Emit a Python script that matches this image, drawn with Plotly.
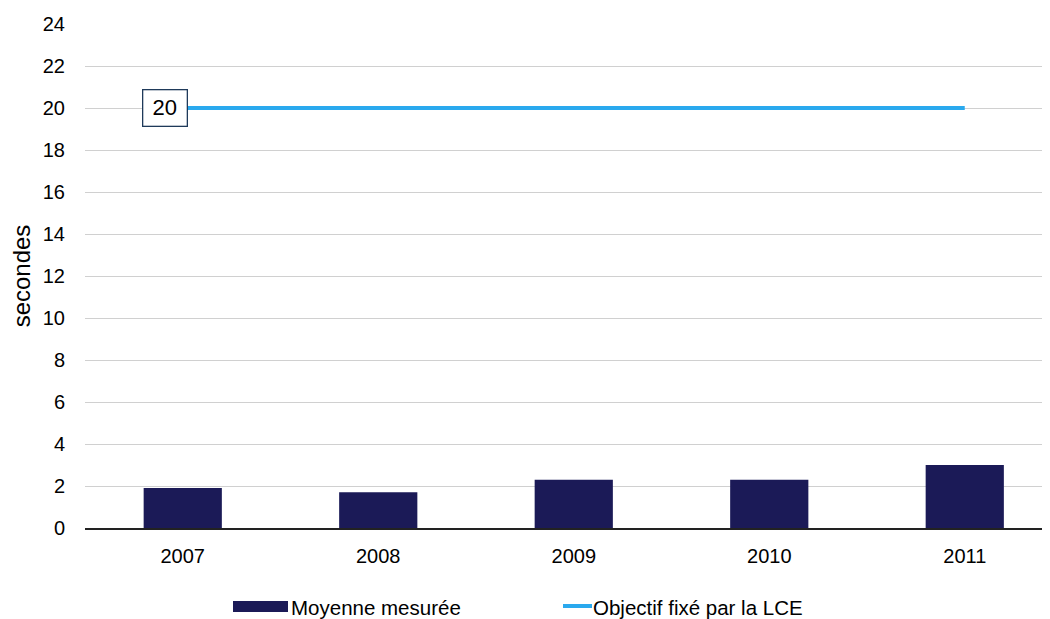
import plotly.graph_objects as go

years = ["2007", "2008", "2009", "2010", "2011"]
moyenne = [1.9, 1.7, 2.3, 2.3, 3.0]
objectif = [20, 20, 20, 20, 20]
y_ticks = list(range(0, 25, 2))

NAVY = "#1b1a57"
BLUE = "#2aa9ee"
FONT = "Liberation Sans, Arial, sans-serif"

fig = go.Figure()
fig.add_trace(go.Bar(x=years, y=moyenne, name="Moyenne mesurée",
                     marker=dict(color=NAVY, line=dict(width=0)), width=0.4,
                     showlegend=False))
fig.add_trace(go.Scatter(x=years, y=objectif, name="Objectif fixé par la LCE",
                         mode="lines", line=dict(color=BLUE, width=4),
                         showlegend=False))

fig.add_annotation(x=0, y=objectif[0], text=str(objectif[0]), showarrow=False,
                   xanchor="right", xshift=5, width=35, height=27,
                   font=dict(size=22, color="#000", family=FONT),
                   bgcolor="white", bordercolor="#1f3a5a", borderwidth=1.3, borderpad=4)

# custom legend (paper coordinates)
fig.add_shape(type="rect", xref="paper", yref="paper", x0=(233-85)/965, x1=(288-85)/965,
              y0=-(601-528)/504, y1=-(612-528)/504, fillcolor=NAVY, line=dict(width=0))
fig.add_annotation(xref="paper", yref="paper", x=(289-85)/965, y=-(607-528)/504,
                   text="Moyenne mesurée", showarrow=False, xanchor="left", yanchor="middle",
                   font=dict(size=20.5, color="#000", family=FONT))
fig.add_shape(type="line", xref="paper", yref="paper", x0=(563-85)/965, x1=(592-85)/965,
              y0=-(606-528)/504, y1=-(606-528)/504, line=dict(color=BLUE, width=4))
fig.add_annotation(xref="paper", yref="paper", x=(591-85)/965, y=-(607-528)/504,
                   text="Objectif fixé par la LCE", showarrow=False, xanchor="left", yanchor="middle",
                   font=dict(size=20.5, color="#000", family=FONT))

fig.update_layout(
    width=1042, height=611,
    margin=dict(l=77, r=0, t=16, b=91),
    paper_bgcolor="white", plot_bgcolor="white",
    font=dict(family=FONT, size=20, color="#000"),
    showlegend=False,
    xaxis=dict(type="category", range=[-0.5, 4.436], showgrid=False,
               showline=True, linecolor="#222", linewidth=1.5,
               ticks="outside", ticklen=9, tickcolor="rgba(0,0,0,0)",
               tickfont=dict(size=20)),
    yaxis=dict(range=[0, 24], tickvals=y_ticks, showgrid=True, gridcolor="#d0d0d0",
               gridwidth=1, zeroline=False, showline=False, ticks="outside",
               ticklen=15, tickcolor="rgba(0,0,0,0)", tickfont=dict(size=20),
               title=dict(text="secondes", font=dict(size=24), standoff=12)),
)

fig.write_html("out.html")
